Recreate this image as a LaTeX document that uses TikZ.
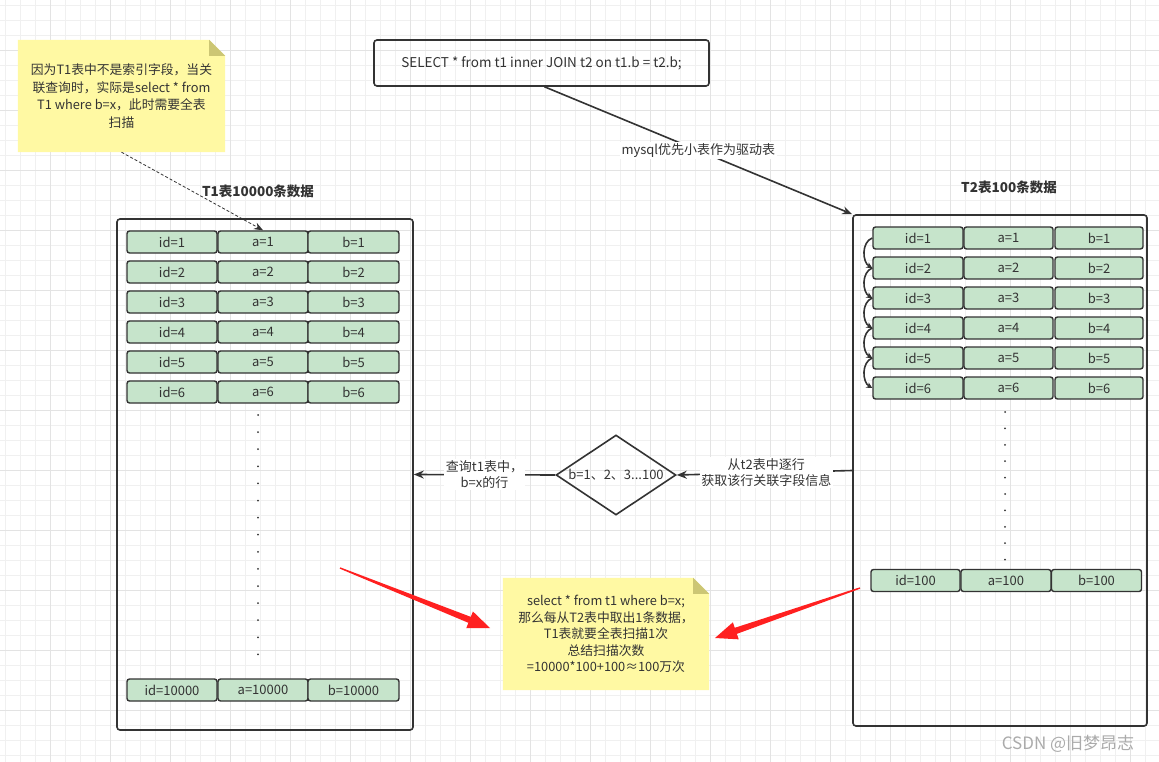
\documentclass[tikz,border=0pt]{standalone}
\usepackage{fontspec}
\setmainfont{Noto Sans CJK SC}
\usetikzlibrary{arrows.meta,shapes.geometric,calc}
\definecolor{txt}{HTML}{333333}
\definecolor{cellg}{HTML}{C6E4CB}
\definecolor{linec}{HTML}{333333}
\definecolor{notey}{HTML}{FFF9A3}
\definecolor{foldc}{HTML}{CCC674}
\definecolor{redc}{HTML}{FF2020}
\definecolor{gridminor}{HTML}{F0F0F0}
\definecolor{gridmajor}{HTML}{E3E3E3}
\pgfdeclarelayer{gridlayer}
\pgfdeclarelayer{bg}
\pgfsetlayers{gridlayer,bg,main}
\tikzset{
  cell/.style={draw=linec, line width=1.4pt, fill=cellg, rounded corners=2.5pt,
    minimum width=90pt, minimum height=22pt, inner sep=0pt,
    font=\fontsize{13}{15}\selectfont, text=txt},
  tablebox/.style={draw=linec, line width=1.6pt, rounded corners=3pt, inner sep=0pt},
  notebox/.style={inner sep=0pt, align=center, text=txt, font=\fontsize{12.8}{17.5}\selectfont},
  lbl/.style={fill=white, inner sep=1.5pt, text=txt, align=center, font=\fontsize{13}{16}\selectfont},
  arr/.style={draw=linec, line width=1.6pt, -{Stealth[length=10pt,width=8pt]}},
  curarr/.style={draw=linec, line width=1.6pt, -{Stealth[length=6pt,width=6pt]}},
  title/.style={text=txt, font=\fontsize{13.5}{16}\selectfont\bfseries},
}
\begin{document}
\begin{tikzpicture}[x=1pt,y=-1pt]
\useasboundingbox (0,0) rectangle (1159,762);
\begin{pgfonlayer}{gridlayer}
  \fill[white] (0,0) rectangle (1159,762);
  \foreach \x in {5,20,...,1159} \draw[gridminor, line width=0.8pt] (\x,0) -- (\x,762);
  \foreach \y in {5,20,...,762} \draw[gridminor, line width=0.8pt] (0,\y) -- (1159,\y);
  \foreach \x in {50,110,...,1159} \draw[gridmajor, line width=0.9pt] (\x,0) -- (\x,762);
  \foreach \y in {50,110,...,762} \draw[gridmajor, line width=0.9pt] (0,\y) -- (1159,\y);
\end{pgfonlayer}

% notes
\node[notebox, minimum width=207pt, minimum height=112pt] (n1) at (121.5,96)
  {因为T1表中不是索引字段，当关\\联查询时，实际是select * from\\T1 where b=x，此时需要全表\\扫描};
\node[notebox, minimum width=206pt, minimum height=112pt, font=\fontsize{12.8}{16.4}\selectfont] (n2) at (606,634)
  {select * from t1 where b=x;\\那么每从T2表中取出1条数据，\\T1表就要全表扫描1次\\总结扫描次数\\=10000*100+100≈100万次};
\begin{pgfonlayer}{bg}
  \foreach \n in {n1,n2}{
    \fill[notey] (\n.south west) -- (\n.north west) -- ([xshift=-16pt]\n.north east)
      -- ([yshift=-16pt]\n.north east) -- (\n.south east) -- cycle;
    \fill[foldc] ([xshift=-16pt]\n.north east) -- ([xshift=-16pt,yshift=-16pt]\n.north east)
      -- ([yshift=-16pt]\n.north east) -- cycle;
  }
\end{pgfonlayer}

% SQL box
\node[draw=linec, line width=1.6pt, rounded corners=3pt, minimum width=335pt, minimum height=46pt,
  text=txt, font=\fontsize{13.5}{16}\selectfont] (sel) at (541.5,63) {SELECT * from t1 inner JOIN t2 on t1.b = t2.b;};

% titles
\node[title] (t1title) at (258,191) {T1表10000条数据};
\node[title] (t2title) at (1009,187) {T2表100条数据};

% table boxes
\node[tablebox, minimum width=296pt, minimum height=511pt] (T1) at (265,474.5) {};
\node[tablebox, minimum width=294pt, minimum height=511pt] (T2) at (1000,470.5) {};

% T1 rows
\foreach \i in {1,...,6}{
  \pgfmathsetmacro\yy{212+30*\i}
  \node[cell] (t1id\i) at (172,\yy) {id=\i};
  \node[cell] (t1a\i) at (263,\yy) {a=\i};
  \node[cell, minimum width=91pt] (t1b\i) at (353.5,\yy) {b=\i};
}
\node[cell] (t1idn) at (172,690) {id=10000};
\node[cell] (t1an) at (263,690) {a=10000};
\node[cell, minimum width=91pt] (t1bn) at (353.5,690) {b=10000};
\foreach \k in {0,...,14} \fill[txt] (258,415+17.1*\k) circle (1pt);

% T2 rows
\foreach \i in {1,...,6}{
  \pgfmathsetmacro\yy{208+30*\i}
  \node[cell] (t2id\i) at (918,\yy) {id=\i};
  \node[cell, minimum width=89pt] (t2a\i) at (1008.5,\yy) {a=\i};
  \node[cell, minimum width=88pt] (t2b\i) at (1099,\yy) {b=\i};
}
\node[cell, minimum width=89pt] (t2idn) at (915.5,580.5) {id=100};
\node[cell] (t2an) at (1006,580.5) {a=100};
\node[cell] (t2bn) at (1096.5,580.5) {b=100};
\foreach \k in {0,...,9} \fill[txt] (1005,412+16.4*\k) circle (1pt);
\foreach \i [evaluate=\i as \j using int(\i+1)] in {1,...,5}
  \draw[curarr] (t2id\i.west) to[out=200,in=150] (t2id\j.west);

% diamond
\node[draw=linec, line width=1.6pt, diamond, aspect=1.5, minimum width=120pt, minimum height=80pt, inner sep=0pt,
  text=txt, font=\fontsize{13}{15}\selectfont] (dia) at (616,475) {b=1、2、3...100};

% connectors
\draw[arr] ([xshift=3pt]sel.south) -- (T2.north west)
  node[lbl, pos=0.5] {mysql优先小表作为驱动表};
\draw[arr] (T2.west) -- (dia.east)
  node[lbl, pos=0.49] {从t2表中逐行\\获取该行关联字段信息};
\draw[arr] (dia.west) -- (T1.east)
  node[lbl, pos=0.5] {查询t1表中，\\b=x的行};
\draw[draw=linec, line width=0.8pt, dashed, dash pattern=on 3pt off 2pt, -{Stealth[length=9pt,width=7pt]}]
  (n1.south) -- (t1a1.north);

% red arrows
\coordinate (ra1) at (340,568);
\coordinate (rb1) at (490,628);
\coordinate (ra2) at (860,588);
\coordinate (rb2) at (715,638);
\foreach \a/\b in {ra1/rb1, ra2/rb2}{
  \coordinate (hb) at ($(\b)!22pt!(\a)$);
  \fill[redc] ($(\a)!0.7pt!90:(\b)$) -- ($(hb)!3.2pt!90:(\b)$) -- ($(hb)!9pt!90:(\b)$)
    -- (\b) -- ($(hb)!9pt!-90:(\b)$) -- ($(hb)!3.2pt!-90:(\b)$) -- ($(\a)!0.7pt!-90:(\b)$) -- cycle;
}

% watermark
\node[text=black!33, font=\fontsize{17}{20}\selectfont] (wm) at (1068,744) {CSDN @旧梦昂志};
\end{tikzpicture}
\end{document}
